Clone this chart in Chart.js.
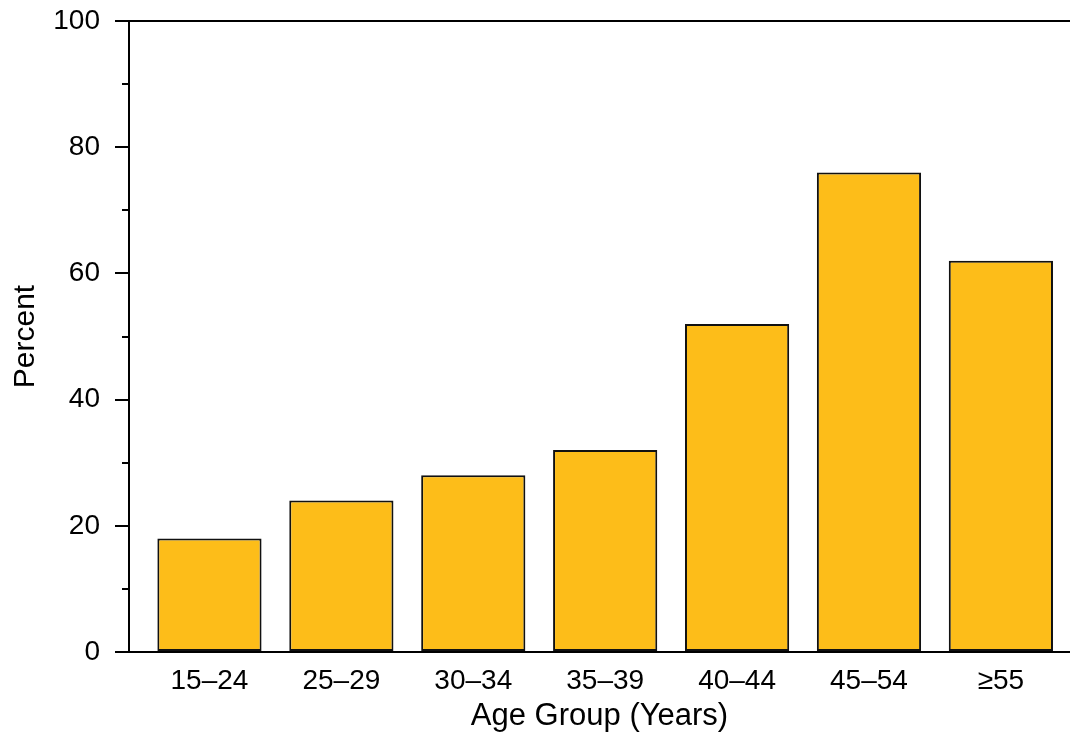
<!DOCTYPE html>
<html>
<head>
<meta charset="utf-8">
<script src="https://cdn.jsdelivr.net/npm/chart.js@4/dist/chart.umd.min.js"></script>
<style>
  html, body { margin: 0; padding: 0; background: #fff; }
  #wrap { width: 1070px; height: 732px; position: relative; }
</style>
</head>
<body>
<div id="wrap"><canvas id="c" width="1070" height="732"></canvas></div>
<script>
const categories = ["15–24", "25–29", "30–34", "35–39", "40–44", "45–54", "≥55"];
const percentValues = [18, 24, 28, 32, 52, 76, 62];
const yMajorTicks = [0, 20, 40, 60, 80, 100];
const yMinorTicks = [10, 30, 50, 70, 90];

const FONT = "'Liberation Sans', Arial, Helvetica, sans-serif";

const minorTickPlugin = {
  id: 'minorTicks',
  afterDraw(chart) {
    const y = chart.scales.y;
    const ctx = chart.ctx;
    const left = chart.chartArea.left;
    ctx.save();
    ctx.strokeStyle = '#000';
    ctx.lineWidth = 2;
    yMinorTicks.forEach(v => {
      const py = Math.round(y.getPixelForValue(v));
      ctx.beginPath();
      ctx.moveTo(left - 7, py);
      ctx.lineTo(left, py);
      ctx.stroke();
    });
    ctx.restore();
  }
};

new Chart(document.getElementById('c'), {
  type: 'bar',
  data: {
    datasets: [{
      data: categories.map((c, i) => ({ x: i, y: percentValues[i] })),
      backgroundColor: '#FDBD19',
      borderColor: '#111',
      borderWidth: 2,
      borderSkipped: false,
      categoryPercentage: 1,
      barPercentage: 0.79
    }]
  },
  options: {
    responsive: false,
    animation: false,
    devicePixelRatio: 1,
    layout: { padding: { top: 21, right: 0, left: 0, bottom: 0 } },
    plugins: { legend: { display: false }, tooltip: { enabled: false } },
    scales: {
      x: {
        type: 'linear',
        offset: false,
        min: -0.61,
        max: 6.524,
        afterBuildTicks(scale) { scale.ticks = categories.map((c, i) => ({ value: i })); },
        afterFit(scale) { scale.height = 80; scale.paddingLeft = 0; scale.paddingRight = 0; },
        grid: { display: true, offset: false, drawOnChartArea: false, drawTicks: false },
        border: { display: true, color: '#000', width: 2 },
        ticks: {
          callback: (v) => categories[v],
          font: { family: FONT, size: 28 },
          color: '#000',
          padding: 12,
          maxRotation: 0,
          autoSkip: false
        },
        title: {
          display: true,
          text: 'Age Group (Years)',
          font: { family: FONT, size: 31, lineHeight: 1 },
          color: '#000',
          padding: { top: 0, bottom: 0 }
        }
      },
      y: {
        min: 0,
        max: 100,
        afterBuildTicks(scale) { scale.ticks = yMajorTicks.map(v => ({ value: v })); },
        afterFit(scale) { scale.width = 129; scale.paddingTop = 0; scale.paddingBottom = 0; },
        grid: {
          drawOnChartArea: true,
          color: (ctx) => (ctx.tick && ctx.tick.value === 100) ? '#000' : 'rgba(0,0,0,0)',
          lineWidth: 2,
          tickLength: 14,
          tickColor: '#000',
          tickWidth: 2
        },
        border: { display: true, color: '#000', width: 2 },
        ticks: {
          font: { family: FONT, size: 28 },
          color: '#000',
          padding: 15
        },
        title: {
          display: true,
          text: 'Percent',
          font: { family: FONT, size: 30, lineHeight: 1 },
          color: '#000',
          padding: { top: 11, bottom: 0 }
        }
      }
    }
  },
  plugins: [minorTickPlugin]
});
</script>
</body>
</html>
